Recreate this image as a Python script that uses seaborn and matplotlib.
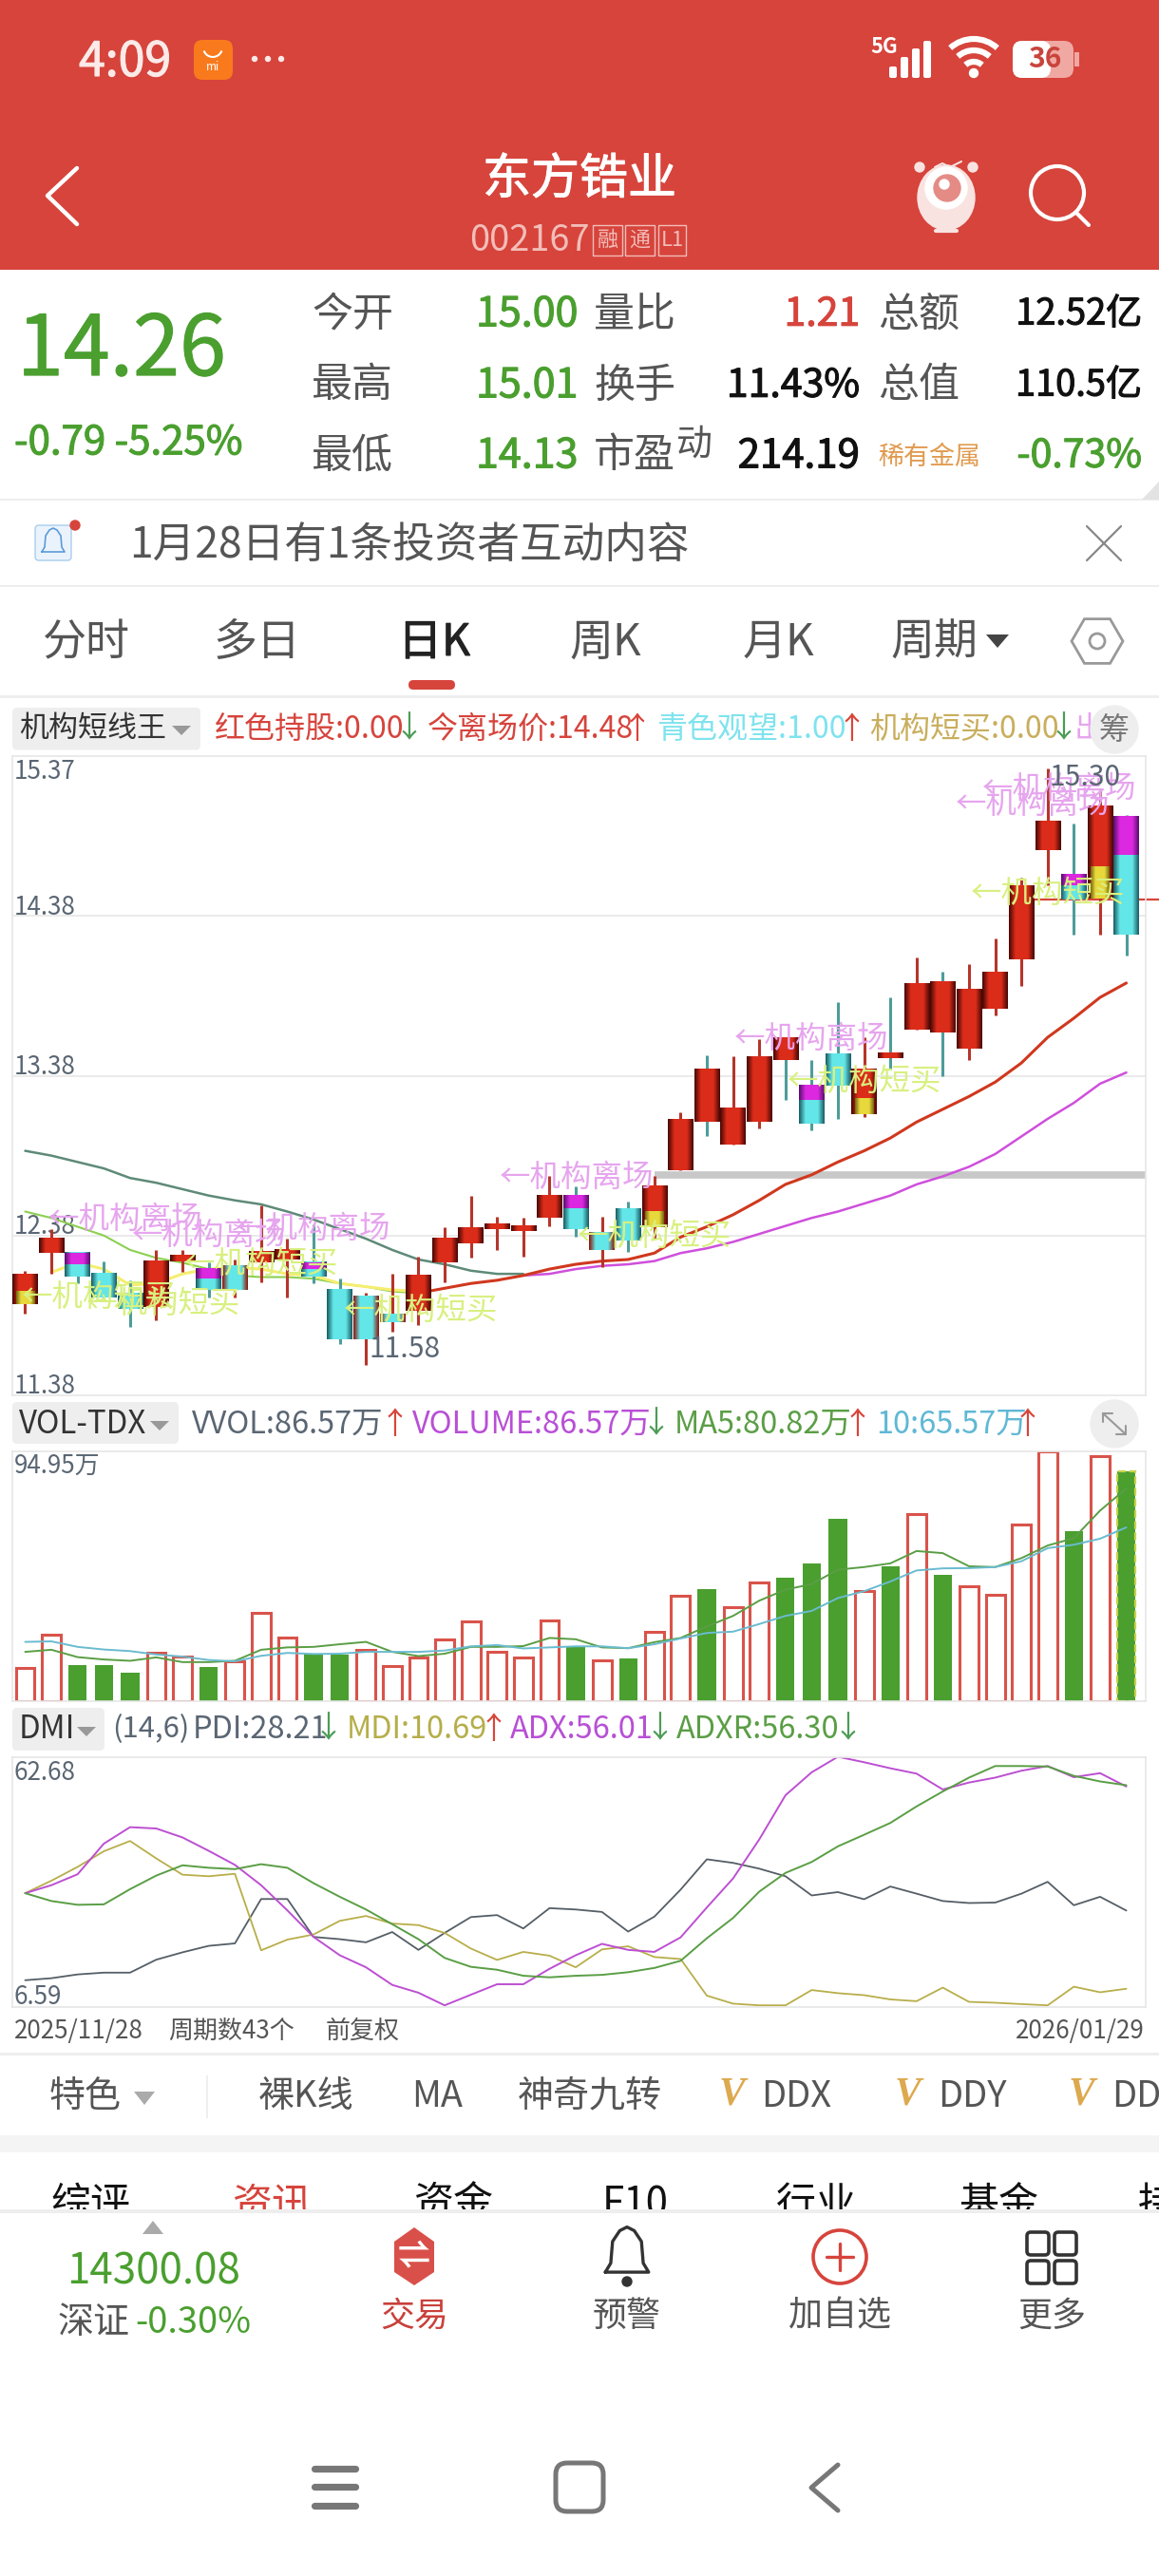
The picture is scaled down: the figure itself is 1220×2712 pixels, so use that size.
import numpy as np
import seaborn as sns
import matplotlib.pyplot as plt
import matplotlib.patheffects as pe
from matplotlib.patches import Rectangle, Circle, Ellipse, Polygon, Arc, RegularPolygon, FancyBboxPatch
from matplotlib.colors import LinearSegmentedColormap

# price panel, one entry per day (43 days)
body_hi = [12.14,12.36,12.27,12.14,12.02,12.22,12.26,12.17,12.19,12.28,12.29,12.21,12.04,12.00,11.89,12.13,12.36,12.43,12.45,12.44,12.63,12.63,
           12.40,12.55,12.69,13.11,13.42,13.18,13.50,13.62,13.32,13.52,13.42,13.52,13.96,13.97,13.92,14.03,14.57,14.97,14.64,15.07,15.00]
body_lo = [11.95,12.27,12.12,11.99,11.92,11.93,12.22,12.04,12.04,12.21,12.23,12.12,11.73,11.73,11.84,11.91,12.21,12.33,12.42,12.41,12.49,12.42,
           12.29,12.35,12.43,12.79,13.09,12.95,13.09,13.48,13.08,13.32,13.14,13.49,13.67,13.65,13.55,13.80,14.11,14.79,14.48,14.49,14.26]
high = [12.16,12.42,12.27,12.22,12.10,12.29,12.29,12.21,12.23,12.57,12.36,12.45,12.11,12.02,12.14,12.25,12.43,12.63,12.50,12.49,12.75,12.69,
        12.50,12.59,12.75,13.15,13.51,13.50,13.61,13.62,13.48,13.84,13.62,13.87,14.12,14.03,14.08,14.24,14.62,15.30,14.96,15.18,15.01]
low = [11.89,12.14,12.08,11.99,11.81,11.85,12.15,11.99,11.99,12.09,11.99,12.08,11.70,11.57,11.78,11.82,12.09,12.24,12.29,12.25,12.44,12.37,
       12.18,12.28,12.36,12.79,13.00,12.95,13.05,13.23,13.04,13.11,13.12,13.42,13.67,13.38,13.48,13.76,13.94,14.57,14.26,14.26,14.13]
# r red, c cyan, m cyan + magenta top, y red + yellow bottom, x cyan with red sides, t red with teal wick
kinds = list('yrmccrrmxrrmcxxrrrrrrmxcyrtrrtmcytrtrrrrmym')[:43]
band = {0:12.03, 2:12.20, 7:12.11, 11:12.17, 21:12.55, 24:12.53, 30:13.23, 32:13.24, 40:14.57, 41:14.69, 42:14.76}

ma_long = [12.91,12.88,12.84,12.80,12.74,12.71,12.67,12.63,12.60,12.575,12.53,12.48,12.42,12.36,12.29,12.23,12.20,12.16,12.14,12.14]
ma_green = [12.53,12.49,12.435,12.38,12.29,12.24,12.21,12.17,12.13,12.12,12.12,12.11,12.08,12.06,12.03,12.02]
ma_yellow = [12.15,12.21,12.17,12.07,12.08,12.14,12.17,12.18,12.17,12.14,12.13,12.08,12.06,12.04,12.03]
ma_red = [12.02,12.05,12.08,12.10,12.13,12.17,12.20,12.22,12.23,12.27,12.37,12.435,12.51,12.60,12.70,12.76,12.84,12.91,12.99,13.09,13.17,13.25,13.34,13.46,13.62,13.74,13.87,13.96]
ma_purple = [12.13,12.14,12.17,12.19,12.20,12.22,12.27,12.30,12.34,12.39,12.44,12.49,12.53,12.58,12.63,12.70,12.75,12.81,12.89,13.00,13.11,13.21,13.33,13.40]

exit_x = [0.87,4.08,8.06,18.08,27.04,35.5,36.5]
exit_y = [12.48,12.38,12.42,12.74,13.61,15.08,15.17]
buy_x = [-0.13,2.35,6.08,12.14,21.06,29.08,36.06]
buy_y = [11.99,11.95,12.20,11.91,12.37,13.34,14.52]
price_ticks = ['15.37','14.38','13.38','12.38','11.38']

# volume panel, in 万
volume = [12.3,25.2,13.4,13.6,10.8,18.1,16.8,12.8,14.9,33.4,23.9,17.8,17.4,19.5,13.1,16.6,23.4,30.2,18.6,16.6,30.5,20.7,
          15.5,16.1,26.3,40.1,42.6,35.7,45.2,46.8,52.2,69.1,41.8,51.2,70.9,48.1,43.6,40.4,67.0,94.95,64.4,93.2,87.3]
vol_down = [2,3,4,7,11,12,21,23,26,29,30,31,33,35,40,42]
vol_ma5 = [18.6,19.4,16.6,15.7,15.2,16.5,14.7,14.7,15.2,19.4,20.3,20.5,21.5,22.4,18.6,17.0,17.9,20.5,20.5,20.8,23.9,23.4,
           20.3,20.0,22.3,23.9,28.3,32.3,38.1,42.3,44.4,49.9,50.9,52.3,57.0,56.2,51.2,50.9,54.3,59.1,61.9,72.4,80.82]
vol_ma10 = [22.4,22.6,20.5,19.5,18.9,17.6,16.8,15.5,15.0,17.1,18.2,17.8,17.9,18.6,18.6,18.6,19.1,20.7,21.2,19.9,20.3,20.7,
            20.7,20.0,21.5,23.7,25.8,26.3,29.2,32.3,34.2,39.1,41.7,45.4,49.6,50.4,50.5,50.9,53.1,58.1,59.4,61.7,66.0]

# DMI panel
pdi = [12.6,13.05,13.9,14.3,14.3,17.2,18.85,20.3,20.85,30.8,30.8,22.3,21.8,21.1,23.4,19.4,23.2,26.75,27.2,24.2,28.75,28.45,
       27.9,23.5,26.85,32.9,39.7,38.9,37.6,35.9,31.6,32.35,30.75,33.6,32.0,30.35,29.9,30.0,32.0,34.65,29.4,31.3,28.21]
mdi = [32.1,34.9,38.0,41.5,43.8,39.9,36.25,35.9,36.45,19.3,21.7,22.85,25.9,27.0,25.3,24.95,23.2,19.7,17.15,18.95,18.1,15.5,
       19.5,20.2,17.8,17.35,9.15,7.35,6.97,6.97,10.4,9.7,9.25,8.3,7.9,10.95,7.75,7.55,7.25,6.97,11.15,9.9,10.69]
adx = [32.1,33.9,36.35,43.2,46.9,46.6,44.6,41.6,38.45,33.9,28.25,22.3,18.2,15.5,11.55,9.8,6.97,9.35,11.7,11.7,15.15,18.2,
       20.75,19.4,18.95,22.2,28.9,35.4,44.15,54.05,59.2,62.68,61.45,60.1,58.9,55.35,56.9,58.0,59.55,60.6,58.1,59.0,56.01]
adxr = [32.1,30.35,29.5,29.6,33.0,36.05,38.35,37.8,37.5,38.6,37.8,34.35,31.3,28.45,25.15,21.8,17.6,15.6,14.95,13.6,13.25,13.6,
        13.8,14.4,15.35,16.95,22.0,26.55,32.45,36.65,39.1,42.6,45.2,47.85,51.55,54.9,58.0,60.6,60.6,60.5,58.4,57.15,56.30]

RED = '#D6443C'
GREEN = '#4A9F2F'
GREY = '#555555'
AXIS = '#5A6673'
LINE = '#E6E6E6'
UP = '#D9453A'
DOWN = '#4C9C55'
W, H = 1220, 2712

sns.set_theme(style='white')
plt.rcParams['font.family'] = ['Noto Sans CJK SC', 'DejaVu Sans']

fig = plt.figure(figsize=(W / 100, H / 100), dpi=100, facecolor='white')
ui = fig.add_axes([0, 0, 1, 1], zorder=0)
ui.set_xlim(0, W)
ui.set_ylim(H, 0)
ui.axis('off')


def tx(x, y, s, px, color, ha='left', weight='normal', zorder=4, **kw):
    if weight == 'medium':
        weight = 'normal'
        kw['path_effects'] = [pe.withStroke(linewidth=0.8, foreground=color)]
    return ui.text(x, y + px * 0.08, s, fontsize=px * 0.72, color=color, ha=ha, va='center', weight=weight, zorder=zorder, **kw)


def rect(x0, y0, x1, y1, color, zorder=1, **kw):
    ui.add_patch(Rectangle((x0, y0), x1 - x0, y1 - y0, facecolor=color, edgecolor='none', zorder=zorder, **kw))


def rbox(x0, y0, x1, y1, r, fc, ec='none', lw=0, zorder=2, alpha=None):
    ui.add_patch(FancyBboxPatch((x0 + r, y0 + r), x1 - x0 - 2 * r, y1 - y0 - 2 * r, boxstyle='round,pad=%s' % r,
                                facecolor=fc, edgecolor=ec, linewidth=lw, zorder=zorder, alpha=alpha))


def pl(xs, ys, color, lw, zorder=3):
    ui.plot(xs, ys, color=color, lw=lw, zorder=zorder, solid_capstyle='round', solid_joinstyle='round')


def tri(x, y, w, h, color, up=False):
    s = -1 if up else 1
    ui.add_patch(Polygon([(x - w / 2, y - s * h / 2), (x + w / 2, y - s * h / 2), (x, y + s * h / 2)], facecolor=color, edgecolor='none', zorder=4))


def bell(cx, cy, k, color, lw):
    xs = np.array([-24, -18, -16, -8, 0, 8, 16, 18, 24, -24]) * k + cx
    ys = np.array([18, 8, -16, -28, -32, -28, -16, 8, 18, 18]) * k + cy
    pl(xs, ys, color, lw)


def arrow(x, y, up, px=32):
    tx(x, y, '↑' if up else '↓', px, UP if up else DOWN, ha='center')


# header
rect(0, 0, W, 284, RED)
tx(83, 62, '4:09', 50, '#FBEAE8', weight='medium')
rbox(204, 42, 245, 84, 9, '#F97A1C')
ui.add_patch(Arc((224, 50), 20, 20, theta1=20, theta2=160, color='white', lw=1.5, zorder=4))
tx(224, 70, 'mi', 12, 'white', ha='center')
for dx in (268, 282, 296):
    ui.add_patch(Circle((dx, 62), 2.5, color='#FBEAE8', zorder=4))
tx(916, 48, '5G', 22, 'white', weight='bold')
for bx, top in zip((936, 948, 960, 972), (70, 60, 51, 43)):
    rbox(bx, top, bx + 8, 82, 2, 'white')
for r in (13, 25, 37):
    ui.add_patch(Arc((1025, 78), 2 * r, 2 * r, theta1=228, theta2=312, color='white', lw=4.5, zorder=4))
ui.add_patch(Circle((1025, 77), 4.5, color='white', zorder=4))
rbox(1066, 43, 1130, 82, 10, '#F0A8A2')
rbox(1066, 43, 1106, 82, 10, 'white', zorder=3)
rect(1131, 55, 1136, 70, '#F0A8A2')
tx(1100, 60, '36', 30, '#C9443C', ha='center', weight='bold', zorder=5)
pl([81, 50, 81], [177, 206, 236], 'white', 3.2)
tx(610, 185, '东方锆业', 51, 'white', ha='center', weight='medium')
tx(494, 250, '002167', 38, '#F3BDB8')
for x0, x1, s in ((624, 655, '融'), (658, 689, '通'), (693, 722, 'L1')):
    ui.add_patch(Rectangle((x0, 237), x1 - x0, 32, fill=False, edgecolor='#F3BDB8', lw=1, zorder=3))
    tx((x0 + x1) / 2, 251, s, 22, '#F3BDB8', ha='center')
ui.add_patch(Ellipse((996, 208), 60, 68, color='#F9E3E1', zorder=3))
ui.add_patch(Circle((996, 198), 22, color='white', zorder=4))
ui.add_patch(Circle((997, 198), 14, color='#E58B85', zorder=4))
ui.add_patch(Circle((994, 194), 5, color='white', zorder=5))
ui.add_patch(Circle((968, 176), 5, color='#F9E3E1', zorder=3))
ui.add_patch(Circle((1024, 176), 5, color='#F9E3E1', zorder=3))
pl([984, 992, 1000, 1012], [176, 172, 176, 170], '#F9E3E1', 1.5)
pl([985, 1007], [243, 243], '#F9E3E1', 3)
ui.add_patch(Circle((1113, 203), 28, fill=False, edgecolor='white', lw=3, zorder=4))
pl([1133, 1146], [224, 237], 'white', 3)

# quote block
tx(18, 363, '14.26', 88, GREEN, weight='medium')
tx(15, 463, '-0.79 -5.25%', 42, GREEN, weight='medium')
for y, lab, val, lab2 in ((328, '今开', '15.00', '量比'), (403, '最高', '15.01', '换手'), (477, '最低', '14.13', '市盈')):
    tx(328, y, lab, 43, GREY)
    tx(501, y, val, 43, GREEN, weight='medium')
    tx(625, y, lab2, 43, GREY)
tx(712, 465, '动', 38, GREY)
tx(905, 328, '1.21', 41, RED, ha='right', weight='medium')
tx(905, 403, '11.43%', 41, '#111111', ha='right', weight='medium')
tx(905, 477, '214.19', 42, '#111111', ha='right', weight='medium')
tx(924, 328, '总额', 43, GREY)
tx(924, 403, '总值', 43, GREY)
tx(924, 479, '稀有金属', 27, '#E09A4E')
tx(1202, 328, '12.52亿', 38, '#111111', ha='right', weight='medium')
tx(1202, 403, '110.5亿', 38, '#111111', ha='right', weight='medium')
tx(1202, 477, '-0.73%', 41, GREEN, ha='right', weight='medium')
ui.add_patch(Polygon([(1220, 507), (1220, 526), (1202, 526)], facecolor='#E3E3E3', edgecolor='none', zorder=2))
rect(0, 525, W, 527, '#EEEEEE')

# notice
rbox(37, 553, 75, 590, 4, '#EAF3FC', ec='#A9CDEE', lw=1)
bell(56, 572, 0.5, '#5A9BD8', 1.2)
ui.add_patch(Circle((79, 553), 5, color=RED, zorder=5))
tx(136, 570, '1月28日有1条投资者互动内容', 44.6, GREY)
pl([1144, 1180], [554, 590], '#888888', 1.6)
pl([1144, 1180], [590, 554], '#888888', 1.6)
rect(0, 616, W, 618, '#EEEEEE')

# tabs
for x, s in ((91, '分时'), (271, '多日'), (637, '周K'), (819, '月K'), (983, '周期')):
    tx(x, 673, s, 46, GREY, ha='center')
tx(457, 673, '日K', 46, '#222222', ha='center', weight='medium')
tri(1050, 675, 24, 14, '#444444')
rbox(430, 716, 479, 726, 5, RED)
ui.add_patch(RegularPolygon((1155, 675), 6, radius=27, orientation=np.pi / 6, fill=False, edgecolor='#999999', lw=2, zorder=4))
ui.add_patch(Circle((1155, 675), 8, fill=False, edgecolor='#999999', lw=2, zorder=4))
rect(0, 732, W, 735, '#EEEEEE')

# indicator headers
ROW1, ROW2, ROW3 = 765, 1497, 1818
rbox(13, 745, 211, 789.5, 5, '#EEEEEE')
tx(20, ROW1, '机构短线王', 31, '#333333')
tri(191, 769, 20, 10, '#999999')
tx(226, ROW1, '红色持股:0.00', 32, RED)
arrow(430, ROW1, False)
tx(450, ROW1, '今离场价:14.48', 32, RED)
arrow(670, ROW1, True)
tx(691, ROW1, '青色观望:1.00', 32, '#7FE3EE')
arrow(896, ROW1, True)
tx(915, ROW1, '机构短买:0.00', 32, '#C9AE5D')
arrow(1119, ROW1, False)
tx(1131, ROW1, '出', 32, '#E6A5EE')
ui.add_patch(Circle((1173, 768), 25, color='#EEEEEE', zorder=5))
tx(1173, 766, '筹', 32, '#777777', ha='center', zorder=6)

rbox(13, 1476, 188, 1520, 5, '#EEEEEE')
tx(20, ROW2, 'VOL-TDX', 33, '#333333')
tri(168, 1501, 20, 10, '#999999')
tx(202, ROW2, 'VVOL:86.57万', 32.5, AXIS)
arrow(415, ROW2, True)
tx(434, ROW2, 'VOLUME:86.57万', 32.5, '#B84FD6')
arrow(690, ROW2, False)
tx(710, ROW2, 'MA5:80.82万', 32.5, '#5A9E45')
arrow(902, ROW2, True)
tx(922, ROW2, '10:65.57万', 32.5, '#5FB8D5')
arrow(1081, ROW2, True)
ui.add_patch(Circle((1173, 1499), 25, color='#EEEEEE', zorder=3))
pl([1161, 1185], [1488, 1510], '#999999', 1.5, zorder=4)
pl([1161, 1161, 1171], [1497, 1488, 1488], '#999999', 1.5, zorder=4)
pl([1175, 1185, 1185], [1510, 1510, 1501], '#999999', 1.5, zorder=4)

rbox(13, 1798, 110, 1843, 5, '#EEEEEE')
tx(20, ROW3, 'DMI', 33, '#333333')
tri(91, 1823, 20, 10, '#999999')
tx(118, ROW3, '(14,6)', 31, AXIS)
tx(203, ROW3, 'PDI:28.21', 32.5, AXIS)
arrow(345, ROW3, False)
tx(365, ROW3, 'MDI:10.69', 32.5, '#B5AE4A')
arrow(519, ROW3, True)
tx(537, ROW3, 'ADX:56.01', 32.5, '#B84FD6')
arrow(694, ROW3, False)
tx(712, ROW3, 'ADXR:56.30', 32.5, '#5A9E45')
arrow(892, ROW3, False)

# price tick labels sit under the marks
for y, s in zip((810, 953, 1121, 1289, 1457), price_ticks):
    tx(15, y, s, 26, AXIS, zorder=1.5)
tx(15, 1541, '94.95万', 26, AXIS)
tx(15, 1864, '62.68', 26, AXIS)
tx(15, 2100, '6.59', 26, AXIS)
tx(15, 2136, '2025/11/28', 26, GREY)
tx(177, 2136, '周期数43个', 26, GREY)
tx(343, 2136, '前复权', 26, GREY)
tx(1205, 2136, '2026/01/29', 26, GREY, ha='right')
rect(0, 2161, W, 2164, '#EEEEEE')

# feature strip
tx(52, 2204, '特色', 38, GREY)
tri(152, 2209, 22, 14, '#AAAAAA')
rect(217, 2185, 218.5, 2230, '#EEEEEE')
tx(272, 2204, '裸K线', 38, GREY)
tx(433, 2204, 'MA', 38, GREY)
tx(545, 2204, '神奇九转', 38, GREY)
for vx, lx, s in ((770, 801, 'DDX'), (955, 987, 'DDY'), (1138, 1170, 'DD')):
    ui.text(vx, 2206, 'V', fontsize=30, color='#DDA94F', ha='center', va='center', family='Liberation Serif', weight='bold', style='italic', zorder=4)
    tx(lx, 2204, s, 38, GREY)
rect(0, 2248, W, 2266, '#F4F4F4')
for x, s, c in ((53, '综评', '#111111'), (245, '资讯', RED), (436, '资金', '#111111'), (634, 'F10', '#111111'),
                (817, '行业', '#111111'), (1009, '基金', '#111111'), (1198, '持', '#111111')):
    tx(x, 2318, s, 42, c, zorder=2)

# bottom bar covers the clipped tab row
rect(0, 2326, W, H, 'white', zorder=3)
rect(0, 2326, W, 2330, '#EEEEEE', zorder=3)
tri(161, 2345, 22, 14, '#AAAAAA', up=True)
tx(162, 2388, '14300.08', 44, GREEN, ha='center')
tx(61, 2442, '深证', 38, GREY)
tx(142, 2442, '-0.30%', 38, GREEN)
ui.add_patch(Polygon([(436, 2345), (457, 2360), (457, 2392), (436, 2406), (415, 2392), (415, 2360)], facecolor='#D9504A', edgecolor='none', zorder=4))
tx(436, 2372, '⇌', 34, 'white', ha='center', zorder=5, weight='bold')
bell(660, 2375, 0.95, '#333333', 2.4)
ui.add_patch(Circle((660, 2402), 5, color='#333333', zorder=4))
ui.add_patch(Circle((884, 2376), 28, fill=False, edgecolor=RED, lw=2.6, zorder=4))
pl([870, 898], [2376, 2376], RED, 2.4, zorder=5)
pl([884, 884], [2362, 2390], RED, 2.4, zorder=5)
for gx in (1081, 1110):
    for gy in (2350, 2380):
        rbox(gx, gy, gx + 23, gy + 24, 4, 'none', ec='#333333', lw=2.6, zorder=4)
tx(436, 2436, '交易', 36, '#C9403A', ha='center')
tx(660, 2436, '预警', 36, GREY, ha='center')
tx(884, 2436, '加自选', 36, GREY, ha='center')
tx(1107, 2436, '更多', 36, GREY, ha='center')
for y in (2599, 2618, 2638):
    pl([331, 374], [y, y], '#777777', 5.2, zorder=4)
rbox(585, 2593, 635, 2644, 12, 'none', ec='#777777', lw=3.6, zorder=4)
pl([882, 854, 882], [2595, 2619, 2643], '#777777', 3.6, zorder=4)


def panel(left, top, right, bottom):
    ax = fig.add_axes([left / W, 1 - bottom / H, (right - left) / W, (bottom - top) / H], zorder=1)
    ax.patch.set_alpha(0)
    for sp in ax.spines.values():
        sp.set_color(LINE)
        sp.set_linewidth(1.2)
    return ax


def finish(ax, ylim):
    ax.set_xlim(-0.489, 42.74)
    ax.set_ylim(*ylim)
    ax.set(xticks=[], yticks=[], xlabel='', ylabel='')


def line(ax, start, values, color, lw, zorder=2.5):
    xs = np.arange(start, start + len(values))
    sns.lineplot(x=xs, y=values, color=color, linewidth=lw, ax=ax, estimator=None, legend=False, zorder=zorder)


def shade(dark, mid):
    return LinearSegmentedColormap.from_list('', [dark, mid, mid, mid, dark])


CM = {'red': shade('#4A0805', '#DB2C1A'), 'cyan': shade('#1C5F66', '#63E6E8'), 'edge': shade('#8A1A10', '#63E6E8'),
      'mag': shade('#5A1070', '#DC28E0'), 'yel': shade('#7A6A10', '#E8D83C')}
grad = np.linspace(0, 1, 32)[None, :]


def body(ax, i, lo, hi, name, width=0.96):
    ax.imshow(grad, cmap=CM[name], extent=(i - width / 2, i + width / 2, lo, hi), aspect='auto', zorder=3, interpolation='bilinear')


# price panel
pa = panel(13, 796, 1206, 1469)
for lv in (14.38, 13.38, 12.38):
    pa.axhline(lv, color=LINE, lw=1.2, zorder=0.5)
pa.hlines(12.76, 24, 42.74, color='#C8C8C8', lw=5.5, zorder=1)
pa.hlines(14.48, 38.5, 43.3, color=UP, lw=1.6, zorder=1.5, clip_on=False)
line(pa, 0, ma_long, '#5E8A78', 1.8)
line(pa, 0, ma_green, '#8CD050', 1.5)
line(pa, 1, ma_yellow, '#F5EE70', 2.2)
line(pa, 19, ma_purple, '#CF4FDC', 1.8)
line(pa, 15, ma_red, '#D0381E', 2.2)
for i in range(43):
    k = kinds[i]
    wick = '#4E9C9A' if k in 'cmt' else '#B5352A'
    pa.vlines(i, low[i], high[i], color=wick, lw=2.2, zorder=2.8)
    if k in 'rty':
        body(pa, i, body_lo[i], body_hi[i], 'red')
        if k == 'y':
            body(pa, i, body_lo[i], band[i], 'yel', width=0.72)
    elif k == 'x':
        body(pa, i, body_lo[i], body_hi[i], 'edge')
    else:
        body(pa, i, body_lo[i], body_hi[i], 'cyan')
        if k == 'm':
            body(pa, i, band[i], body_hi[i], 'mag')
for x, y in zip(exit_x, exit_y):
    pa.text(x, y, '←机构离场', fontsize=32.5 * 0.72, color='#E6A5EE', ha='left', va='center', zorder=5)
for x, y in zip(buy_x, buy_y):
    pa.text(x, y, '←机构短买', fontsize=32.5 * 0.72, color='#D8F080', ha='left', va='center', zorder=5)
pa.text(39.05, 15.245, '15.30', fontsize=30 * 0.72, color=AXIS, ha='left', va='center', zorder=6)
pa.text(13.13, 11.67, '11.58', fontsize=30 * 0.72, color=AXIS, ha='left', va='center', zorder=6)
finish(pa, (11.38, 15.38))

# volume panel
va = panel(13, 1528, 1206, 1790.5)
xs = np.arange(43)
vol = np.array(volume)
dn = np.array(vol_down)
up = np.setdiff1d(xs, dn)
sns.barplot(x=up, y=vol[up], native_scale=True, fill=False, color='#D9534A', linewidth=2.2, width=0.72, ax=va, legend=False, zorder=2)
sns.barplot(x=dn, y=vol[dn], native_scale=True, color=GREEN, saturation=1, linewidth=0, width=0.70, ax=va, legend=False, zorder=2)
va.patches[-1].set(edgecolor='#C8D24A', linewidth=1.6, linestyle='--')
line(va, 0, vol_ma5, '#5A9E45', 1.4, zorder=3)
line(va, 0, vol_ma10, '#6ABBD0', 1.4, zorder=3.1)
finish(va, (0, 94.95))

# DMI panel
da = panel(13, 1849.5, 1206, 2113)
line(da, 0, pdi, '#555E66', 1.3)
line(da, 0, mdi, '#B8AE4A', 1.3)
line(da, 0, adx, '#BC4FD2', 1.4)
line(da, 0, adxr, '#5A9E45', 1.4)
finish(da, (6.59, 62.68))

fig.savefig('out.png', dpi=100)
